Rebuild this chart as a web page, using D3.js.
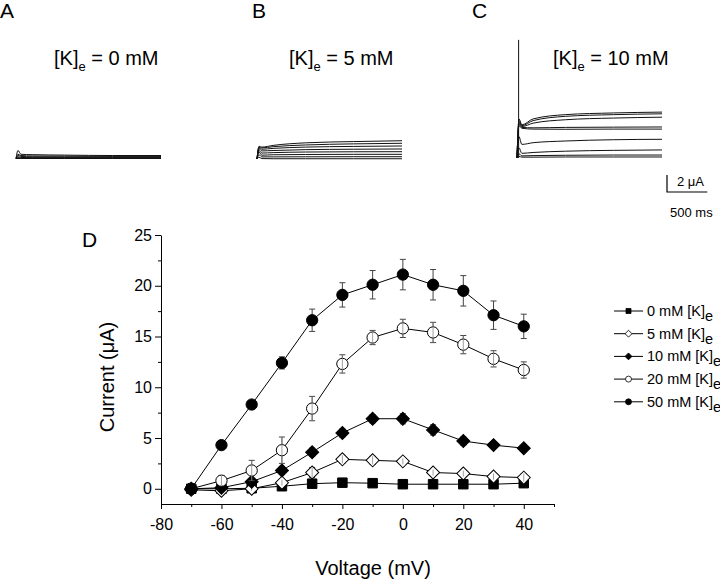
<!DOCTYPE html>
<html>
<head>
<meta charset="utf-8">
<script src="https://cdn.jsdelivr.net/npm/d3@7"></script>
<style>
  body { margin: 0; background: #fff; }
  svg { font-family: "Liberation Sans", Arial, sans-serif; }
</style>
</head>
<body>
<svg id="chart" width="720" height="579"></svg>
<script>
// ---- panel D data (current in uA vs voltage in mV) ----
const voltages = [-70, -60, -50, -40, -30, -20, -10, 0, 10, 20, 30, 40];
const k0     = [0, 0, 0.05, 0.25, 0.5, 0.6, 0.55, 0.45, 0.45, 0.45, 0.45, 0.55];
const k0Err  = [0.1, 0.1, 0.1, 0.15, 0.2, 0.15, 0.15, 0.1, 0.15, 0.15, 0.2, 0.2];
const k5     = [-0.1, -0.2, 0, 0.6, 1.6, 2.9, 2.8, 2.7, 1.6, 1.5, 1.2, 1.1];
const k5Err  = [0.2, 0.2, 0.2, 0.3, 0.5, 0.4, 0.4, 0.3, 0.3, 0.3, 0.3, 0.4];
const k10    = [0, 0.1, 0.7, 1.8, 3.6, 5.5, 6.9, 6.9, 5.8, 4.7, 4.3, 4.0];
const k10Err = [0.2, 0.3, 0.3, 0.4, 0.4, 0.4, 0.4, 0.5, 0.5, 0.4, 0.3, 0.3];
const k20    = [0, 0.8, 1.8, 3.8, 7.9, 12.3, 14.9, 15.8, 15.4, 14.2, 12.8, 11.7];
const k20Err = [0.2, 0.5, 1.0, 1.3, 1.2, 0.9, 0.7, 0.9, 1.0, 0.9, 0.8, 0.8];
const k50    = [0, 4.3, 8.3, 12.4, 16.6, 19.1, 20.1, 21.1, 20.1, 19.5, 17.1, 16.0];
const k50Err = [0.2, 0.3, 0.3, 0.6, 1.1, 1.2, 1.4, 1.5, 1.5, 1.5, 1.4, 1.2];
const seriesNames = ["0 mM", "5 mM", "10 mM", "20 mM", "50 mM"];
const yTicks = [0, 5, 10, 15, 20, 25];
const xTicks = [-80, -60, -40, -20, 0, 20, 40];

// ---- panels A-C: current traces (uA) sampled at traceTimes (ms) ----
const traceTimes = [0, 25, 60, 200, 600, 1200, 1800];
const tracesA = [
  [0, 0.95, 0.5, 0.45, 0.4, 0.35, 0.35],
  [0, 0.5, 0.35, 0.3, 0.28, 0.25, 0.25],
  [0, 0.35, 0.25, 0.2, 0.18, 0.17, 0.17],
  [0, 0.2, 0.12, 0.1, 0.1, 0.1, 0.1],
  [0, 0.1, 0.05, 0.04, 0.04, 0.04, 0.04],
  [0, 0, 0, 0, 0, 0, 0]
];
const tracesB = [
  [0, 1.5, 1.4, 1.6, 1.9, 2.05, 2.15],
  [0, 1.4, 1.3, 1.45, 1.65, 1.78, 1.85],
  [0, 1.3, 1.15, 1.25, 1.4, 1.48, 1.53],
  [0, 1.2, 0.95, 1.0, 1.1, 1.15, 1.18],
  [0, 1.0, 0.7, 0.75, 0.82, 0.85, 0.86],
  [0, 0.8, 0.45, 0.5, 0.53, 0.55, 0.55],
  [0, 0.5, 0.25, 0.25, 0.26, 0.27, 0.27],
  [0, 0.2, 0.05, 0.03, 0.03, 0.03, 0.03]
];
const tracesC = [
  [0, 4.6, 3.9, 4.6, 5.1, 5.3, 5.4],
  [0, 4.4, 3.8, 4.4, 4.9, 5.1, 5.2],
  [0, 4.2, 3.7, 4.1, 4.5, 4.7, 4.8],
  [0, 4.0, 3.6, 3.55, 3.6, 3.63, 3.65],
  [0, 3.8, 3.5, 3.4, 3.38, 3.4, 3.4],
  [0, 2.5, 1.6, 1.8, 2.0, 2.15, 2.2],
  [0, 1.2, 0.55, 0.65, 0.8, 0.9, 0.95],
  [0, 0.5, 0.25, 0.28, 0.32, 0.35, 0.35],
  [0, 0.2, 0.1, 0.1, 0.12, 0.12, 0.12]
];
const spikeC = 13.9;   // capacitive transient at step onset, panel C
const panelTitles = ["0 mM", "5 mM", "10 mM"];

const svg = d3.select("#chart");
const font = "\"Liberation Sans\", Arial, sans-serif";

// ================= traces =================
const panels = [
  {label: "A", lx: 0,   tx: 54,  x0: 16,  base: 158.5, traces: tracesA},
  {label: "B", lx: 252, tx: 289, x0: 257, base: 159,   traces: tracesB},
  {label: "C", lx: 472, tx: 553, x0: 517, base: 158,   traces: tracesC}
];

panels.forEach((p, i) => {
  svg.append("text").attr("x", p.lx).attr("y", 18)
    .attr("font-size", 21).text(p.label);

  const t = svg.append("text").attr("x", p.tx).attr("y", 65).attr("font-size", 20);
  t.append("tspan").text("[K]");
  t.append("tspan").attr("font-size", 13).attr("dy", 6).text("e");
  t.append("tspan").attr("dy", -6).text(" = " + panelTitles[i]);

  const tx = d3.scaleLinear().domain([0, 1800]).range([p.x0, p.x0 + 145]);
  const ty = d3.scaleLinear().domain([0, 2]).range([p.base, p.base - 17]);
  const line = d3.line()
    .x((d, j) => tx(traceTimes[j]))
    .y(d => ty(d))
    .curve(d3.curveMonotoneX);

  svg.append("g").selectAll("path").data(p.traces).join("path")
    .attr("d", line)
    .attr("fill", "none")
    .attr("stroke", "#111")
    .attr("stroke-width", 1);

  if (p.label === "C") {
    svg.append("line")
      .attr("x1", tx(20)).attr("x2", tx(20))
      .attr("y1", ty(0)).attr("y2", ty(spikeC))
      .attr("stroke", "#111");

    // scale bar: 2 uA / 500 ms, same scales as the traces
    const sx = 667, sy = 192;
    const barH = ty(0) - ty(2), barW = tx(500) - tx(0);
    svg.append("path")
      .attr("d", `M${sx},${sy - barH}V${sy}H${sx + barW}`)
      .attr("fill", "none").attr("stroke", "#000").attr("stroke-width", 1.2);
    svg.append("text").attr("x", 677).attr("y", 186).attr("font-size", 13).text("2 \u03bcA");
    svg.append("text").attr("x", 670).attr("y", 217).attr("font-size", 13).text("500 ms");
  }
});

// ================= panel D =================
const x = d3.scaleLinear().domain([-80, 50]).range([161, 554]);
const y = d3.scaleLinear().domain([-1.5, 25]).range([504, 235]);
const fmt = d => String(d);

svg.append("text").attr("x", 82).attr("y", 247).attr("font-size", 21).text("D");

svg.append("g").attr("transform", "translate(0,504)")
  .call(d3.axisBottom(x).tickValues(xTicks).tickFormat(fmt).tickSize(5).tickPadding(10).tickSizeOuter(0));
svg.append("g").attr("transform", "translate(0,504)")
  .call(d3.axisBottom(x).tickValues(d3.range(-70, 51, 20)).tickSize(3).tickFormat("").tickSizeOuter(0))
  .select(".domain").remove();
svg.append("g").attr("transform", "translate(161,0)")
  .call(d3.axisLeft(y).tickValues(yTicks).tickFormat(fmt).tickSize(6).tickPadding(3).tickSizeOuter(0));
svg.append("g").attr("transform", "translate(161,0)")
  .call(d3.axisLeft(y).tickValues(d3.range(2.5, 25, 5)).tickSize(3).tickFormat("").tickSizeOuter(0))
  .select(".domain").remove();

svg.selectAll(".tick text").attr("font-size", 16).attr("font-family", font).attr("fill", "#000");
svg.selectAll(".domain, .tick line").attr("stroke", "#000");

svg.append("text").attr("x", 373).attr("y", 575).attr("text-anchor", "middle")
  .attr("font-size", 20).text("Voltage (mV)");
svg.append("text").attr("transform", "translate(114,377) rotate(-90)")
  .attr("text-anchor", "middle").attr("font-size", 20).text("Current (\u03bcA)");

const series = [
  {vals: k0,  err: k0Err,  shape: d3.symbolSquare, size: 90,  rot: 0,  fill: "#000"},
  {vals: k5,  err: k5Err,  shape: d3.symbolSquare, size: 85,  rot: 45, fill: "#fff"},
  {vals: k10, err: k10Err, shape: d3.symbolSquare, size: 85,  rot: 45, fill: "#000"},
  {vals: k20, err: k20Err, shape: d3.symbolCircle, size: 100, rot: 0,  fill: "#fff"},
  {vals: k50, err: k50Err, shape: d3.symbolCircle, size: 100, rot: 0,  fill: "#000"}
];

const lineD = d3.line().x((d, i) => x(voltages[i])).y(d => y(d));

series.forEach(s => {
  const g = svg.append("g");
  g.append("path").attr("d", lineD(s.vals))
    .attr("fill", "none").attr("stroke", "#000").attr("stroke-width", 1);
  const eb = g.append("g").attr("stroke", "#444").attr("stroke-width", 1);
  s.vals.forEach((v, i) => {
    const cx = x(voltages[i]), hi = y(v + s.err[i]), lo = y(v - s.err[i]);
    eb.append("path").attr("d", `M${cx},${hi}V${lo}M${cx - 3},${hi}H${cx + 3}M${cx - 3},${lo}H${cx + 3}`);
  });
  g.selectAll(".pt").data(s.vals).join("path")
    .attr("transform", (d, i) => `translate(${x(voltages[i])},${y(d)}) rotate(${s.rot})`)
    .attr("d", d3.symbol(s.shape, s.size))
    .attr("fill", s.fill).attr("stroke", "#000").attr("stroke-width", 1);
  if (s.fill === "#fff") {
    // error bars visible through open markers
    s.vals.forEach((v, i) => {
      const cx = x(voltages[i]), hi = y(v + s.err[i]), lo = y(v - s.err[i]);
      g.append("path").attr("d", `M${cx},${hi}V${lo}`).attr("stroke", "#888").attr("stroke-width", 0.8);
    });
  }
});

// legend
const leg = svg.append("g");
series.forEach((s, i) => {
  const ly = 311 + i * 22.7;
  leg.append("line").attr("x1", 614).attr("x2", 643).attr("y1", ly).attr("y2", ly)
    .attr("stroke", "#000");
  leg.append("path").attr("transform", `translate(628.5,${ly}) rotate(${s.rot})`)
    .attr("d", d3.symbol(s.shape, s.size * 0.28))
    .attr("fill", s.fill).attr("stroke", "#000").attr("stroke-width", 0.8);
  const t = leg.append("text").attr("x", 647).attr("y", ly + 5).attr("font-size", 14.5);
  t.append("tspan").text(seriesNames[i] + " [K]");
  t.append("tspan").attr("dy", 5).text("e");
});
</script>
</body>
</html>
